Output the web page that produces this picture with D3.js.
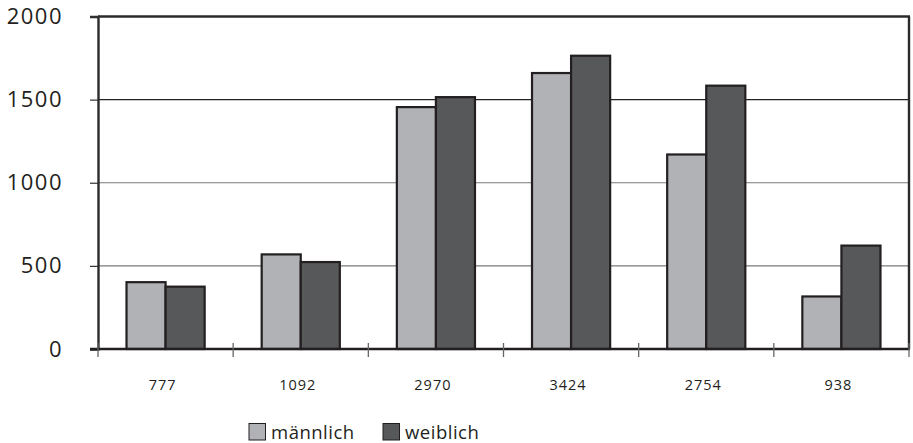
<!DOCTYPE html>
<html>
<head>
<meta charset="utf-8">
<script src="https://cdn.jsdelivr.net/npm/d3@7"></script>
<style>
  html, body { margin: 0; padding: 0; background: #fff; }
  svg { display: block; font-family: "Open Sans", "DejaVu Sans", sans-serif; }
</style>
</head>
<body>
<svg id="chart" width="913" height="443"></svg>
<script>
// Group labels (totals per group) and the two series
const categories = ["777", "1092", "2970", "3424", "2754", "938"];
const seriesNames = ["männlich", "weiblich"];
const maleValues = [402, 569, 1455, 1660, 1170, 316];
const femaleValues = [375, 523, 1515, 1764, 1584, 622];
const yTicks = [0, 500, 1000, 1500, 2000];

const colors = { "männlich": "#b1b2b5", "weiblich": "#56585a" };

const svg = d3.select("#chart");
const margin = { left: 98, right: 4, top: 16.5, bottom: 94 };
const W = 913, H = 443;
const x0 = margin.left, x1 = W - margin.right;
const yTop = margin.top, yBot = H - margin.bottom;

const x = d3.scaleBand().domain(categories).range([x0, x1]).paddingInner(0).paddingOuter(0);
const xs = d3.scaleBand().domain(seriesNames).range([0, x.bandwidth()]).paddingInner(0).paddingOuter(0.73);
const y = d3.scaleLinear().domain([0, 2000]).range([yBot, yTop]);

const rows = categories.map((c, i) => ({ cat: c, values: [
  { key: "männlich", value: maleValues[i] },
  { key: "weiblich", value: femaleValues[i] }
]}));

// Horizontal gridlines
svg.append("g").selectAll("line").data(yTicks.filter(t => t > 0 && t < 2000)).join("line")
  .attr("x1", x0).attr("x2", x1)
  .attr("y1", d => y(d)).attr("y2", d => y(d))
  .attr("stroke", d => d === 1500 ? "#222" : "#7a7a7a")
  .attr("stroke-width", 1.2);

// Bars
const groups = svg.append("g").selectAll("g").data(rows).join("g")
  .attr("transform", d => `translate(${x(d.cat)},0)`);
groups.selectAll("rect").data(d => d.values).join("rect")
  .attr("x", d => xs(d.key))
  .attr("width", xs.bandwidth())
  .attr("y", d => y(d.value))
  .attr("height", d => y(0) - y(d.value))
  .attr("fill", d => colors[d.key])
  .attr("stroke", "#231f20")
  .attr("stroke-width", 2.2);

// Frame: top and right border
svg.append("line").attr("x1", x0).attr("x2", x1 + 1).attr("y1", yTop).attr("y2", yTop)
  .attr("stroke", "#2b2b2b").attr("stroke-width", 2.6);
svg.append("line").attr("x1", x1).attr("x2", x1).attr("y1", yTop).attr("y2", yBot)
  .attr("stroke", "#2b2b2b").attr("stroke-width", 2.4);

// Y axis
const yAxis = d3.axisLeft(y).tickValues(yTicks).tickSize(8).tickPadding(27).tickFormat(d3.format("d"));
const gy = svg.append("g").attr("transform", `translate(${x0},0)`).call(yAxis);
gy.select(".domain").attr("stroke", "#2b2b2b").attr("stroke-width", 2.4);
gy.selectAll(".tick line").attr("stroke", "#333").attr("stroke-width", 1.2);
gy.selectAll(".tick text").attr("font-size", 22).attr("fill", "#231f20")
  .attr("letter-spacing", 1.5)
  .attr("font-family", "'Open Sans', sans-serif");

// X axis: ticks at group boundaries crossing the baseline
const gx = svg.append("g");
gx.append("line").attr("x1", x0 - 8).attr("x2", x1 + 1).attr("y1", yBot).attr("y2", yBot)
  .attr("stroke", "#231f20").attr("stroke-width", 2.6);
const boundaries = categories.map(c => x(c)).concat([x1]);
gx.selectAll("line.b").data(boundaries).join("line").attr("class", "b")
  .attr("x1", d => d).attr("x2", d => d)
  .attr("y1", yBot - 6).attr("y2", yBot + 8)
  .attr("stroke", "#666").attr("stroke-width", 1.3);
gx.selectAll("text").data(categories).join("text")
  .attr("x", d => x(d) + x.bandwidth() / 2 - 3)
  .attr("y", 390)
  .attr("text-anchor", "middle")
  .attr("font-size", 14.5)
  .attr("letter-spacing", 1)
  .attr("fill", "#231f20")
  .text(d => d);

// Legend
const legend = svg.append("g");
const legendItems = [{ key: "männlich", x: 249 }, { key: "weiblich", x: 383 }];
legend.selectAll("rect").data(legendItems).join("rect")
  .attr("x", d => d.x).attr("y", 423.5).attr("width", 16.5).attr("height", 16.5)
  .attr("fill", d => colors[d.key]).attr("stroke", "#231f20").attr("stroke-width", 1);
legend.selectAll("text").data(legendItems).join("text")
  .attr("x", d => d.x + 22).attr("y", 438.5)
  .attr("font-size", 18.5).attr("letter-spacing", 0.5).attr("fill", "#231f20")
  .text(d => d.key);
</script>
</body>
</html>
